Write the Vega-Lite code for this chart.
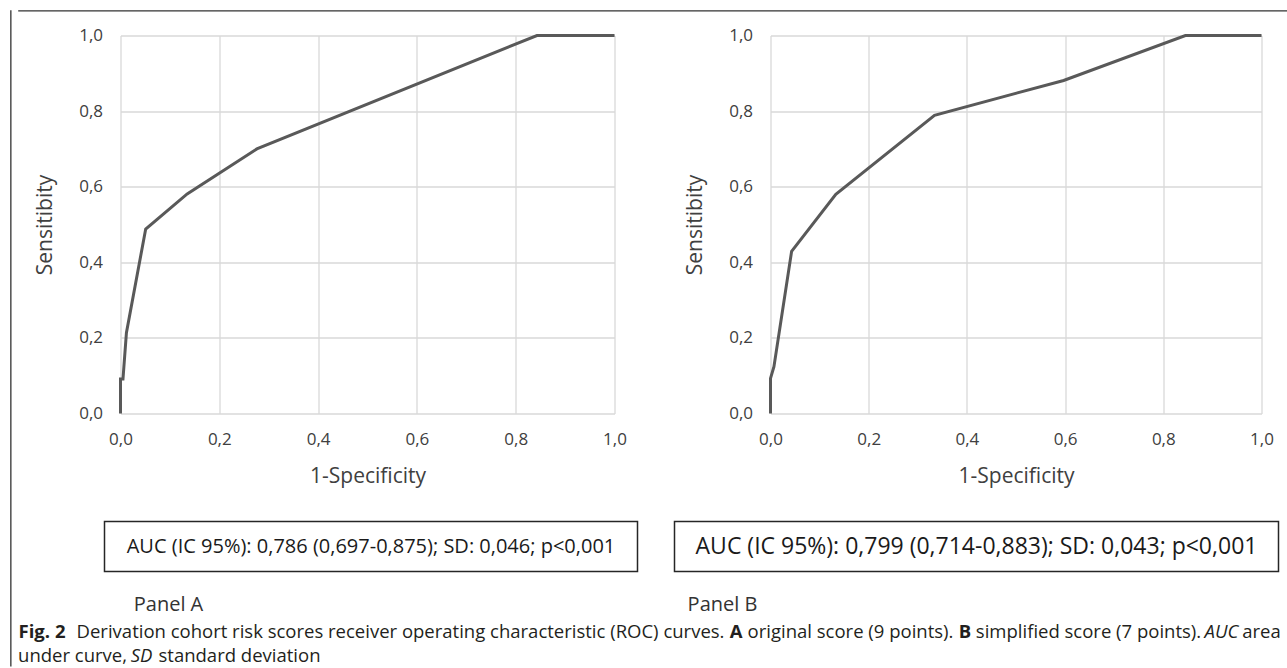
{
  "$schema": "https://vega.github.io/schema/vega-lite/v6.json",
  "padding": {"left": 9.5, "top": 9.5, "right": 0, "bottom": 0},
  "background": "#ffffff",
  "datasets": {
    "rocA": [
      {"i": 0, "fpr": 0.0, "tpr": 0.0},
      {"i": 1, "fpr": 0.0, "tpr": 0.091},
      {"i": 2, "fpr": 0.005, "tpr": 0.091},
      {"i": 3, "fpr": 0.012, "tpr": 0.214},
      {"i": 4, "fpr": 0.051, "tpr": 0.488},
      {"i": 5, "fpr": 0.135, "tpr": 0.581},
      {"i": 6, "fpr": 0.276, "tpr": 0.7},
      {"i": 7, "fpr": 0.843, "tpr": 1.0},
      {"i": 8, "fpr": 1.0, "tpr": 1.0}
    ],
    "rocB": [
      {"i": 0, "fpr": 0.0, "tpr": 0.0},
      {"i": 1, "fpr": 0.0, "tpr": 0.093},
      {"i": 2, "fpr": 0.007, "tpr": 0.124},
      {"i": 3, "fpr": 0.043, "tpr": 0.429},
      {"i": 4, "fpr": 0.133, "tpr": 0.58},
      {"i": 5, "fpr": 0.334, "tpr": 0.789},
      {"i": 6, "fpr": 0.597, "tpr": 0.881},
      {"i": 7, "fpr": 0.845, "tpr": 1.0},
      {"i": 8, "fpr": 1.0, "tpr": 1.0}
    ]
  },
  "hconcat": [
    {"width": 0.1, "height": 655, "view": {"stroke": "#333333", "strokeWidth": 1.2}, "data": {"values": []}, "mark": "point"},
    {
      "vconcat": [
        {"width": 1268, "height": 0.1, "view": {"stroke": "#333333", "strokeWidth": 1.2}, "data": {"values": []}, "mark": "point"},
        {"width": 1, "height": 15, "data": {"values": []}, "mark": "point"},
        {
          "hconcat": [
            {"width": 102, "height": 485, "data": {"values": []}, "mark": "point"},
            {
              "width": 494, "height": 378,
              "data": {"name": "rocA"},
              "mark": {"type": "line", "color": "#595959", "strokeWidth": 3},
              "encoding": {
                "x": {"field": "fpr", "type": "quantitative", "scale": {"domain": [0, 1], "nice": false}, "axis": {"title": "1-Specificity", "values": [0, 0.2, 0.4, 0.6, 0.8, 1]}},
                "y": {"field": "tpr", "type": "quantitative", "scale": {"domain": [0, 1], "nice": false}, "axis": {"title": "Sensitibity", "titlePadding": 23, "values": [0, 0.2, 0.4, 0.6, 0.8, 1]}},
                "order": {"field": "i", "type": "quantitative"}
              }
            },
            {"width": 156, "height": 1, "data": {"values": []}, "mark": "point"},
            {
              "width": 491, "height": 378,
              "data": {"name": "rocB"},
              "mark": {"type": "line", "color": "#595959", "strokeWidth": 3},
              "encoding": {
                "x": {"field": "fpr", "type": "quantitative", "scale": {"domain": [0, 1], "nice": false}, "axis": {"title": "1-Specificity", "values": [0, 0.2, 0.4, 0.6, 0.8, 1]}},
                "y": {"field": "tpr", "type": "quantitative", "scale": {"domain": [0, 1], "nice": false}, "axis": {"title": "Sensitibity", "titlePadding": 23, "values": [0, 0.2, 0.4, 0.6, 0.8, 1]}},
                "order": {"field": "i", "type": "quantitative"}
              }
            }
          ],
          "spacing": 0,
          "bounds": "flush"
        },
        {
          "hconcat": [
            {"width": 86, "height": 50, "data": {"values": []}, "mark": "point"},
            {
              "width": 533, "height": 50,
              "view": {"stroke": "#262626", "strokeWidth": 1.5},
              "data": {"values": [{"t": "AUC (IC 95%): 0,786 (0,697-0,875); SD: 0,046; p<0,001"}]},
              "mark": {"type": "text", "font": "Open Sans", "fontSize": 20, "color": "#1a1a1a", "baseline": "middle"},
              "encoding": {"text": {"field": "t", "type": "nominal"}}
            },
            {"width": 37, "height": 50, "data": {"values": []}, "mark": "point"},
            {
              "width": 604, "height": 50,
              "view": {"stroke": "#262626", "strokeWidth": 1.5},
              "data": {"values": [{"t": "AUC (IC 95%): 0,799 (0,714-0,883); SD: 0,043; p<0,001"}]},
              "mark": {"type": "text", "font": "Open Sans", "fontSize": 23, "color": "#1a1a1a", "baseline": "middle"},
              "encoding": {"text": {"field": "t", "type": "nominal"}}
            }
          ],
          "spacing": 0,
          "bounds": "flush"
        },
        {"width": 1, "height": 21.5, "data": {"values": []}, "mark": "point"},
        {
          "hconcat": [
            {"width": 115, "height": 20, "data": {"values": []}, "mark": "point"},
            {"width": 70, "height": 20, "data": {"values": [{"t": "Panel A"}]},
             "mark": {"type": "text", "font": "Open Sans", "fontSize": 20, "color": "#333333", "baseline": "middle"},
             "encoding": {"text": {"field": "t", "type": "nominal"}}},
            {"width": 483, "height": 20, "data": {"values": []}, "mark": "point"},
            {"width": 72, "height": 20, "data": {"values": [{"t": "Panel B"}]},
             "mark": {"type": "text", "font": "Open Sans", "fontSize": 20, "color": "#333333", "baseline": "middle"},
             "encoding": {"text": {"field": "t", "type": "nominal"}}}
          ],
          "spacing": 0,
          "bounds": "flush"
        },
        {"width": 1, "height": 7, "data": {"values": []}, "mark": "point"},
        {
          "hconcat": [
            {"width": 47, "height": 20, "data": {"values": [{"t": "Fig. 2"}]},
             "mark": {"type": "text", "font": "Open Sans", "fontSize": 18.5, "fontWeight": "bold", "color": "#231f20", "baseline": "middle"},
             "encoding": {"text": {"field": "t", "type": "nominal"}}},
            {"width": 11, "height": 20, "data": {"values": []}, "mark": "point"},
            {"width": 648, "height": 20, "data": {"values": [{"t": "Derivation cohort risk scores receiver operating characteristic (ROC) curves."}]},
             "mark": {"type": "text", "font": "Open Sans", "fontSize": 18.5, "color": "#231f20", "baseline": "middle"},
             "encoding": {"text": {"field": "t", "type": "nominal"}}},
            {"width": 5, "height": 20, "data": {"values": []}, "mark": "point"},
            {"width": 13, "height": 20, "data": {"values": [{"t": "A"}]},
             "mark": {"type": "text", "font": "Open Sans", "fontSize": 18.5, "fontWeight": "bold", "color": "#231f20", "baseline": "middle"},
             "encoding": {"text": {"field": "t", "type": "nominal"}}},
            {"width": 5, "height": 20, "data": {"values": []}, "mark": "point"},
            {"width": 206, "height": 20, "data": {"values": [{"t": "original score (9 points)."}]},
             "mark": {"type": "text", "font": "Open Sans", "fontSize": 18.5, "color": "#231f20", "baseline": "middle"},
             "encoding": {"text": {"field": "t", "type": "nominal"}}},
            {"width": 5, "height": 20, "data": {"values": []}, "mark": "point"},
            {"width": 13, "height": 20, "data": {"values": [{"t": "B"}]},
             "mark": {"type": "text", "font": "Open Sans", "fontSize": 18.5, "fontWeight": "bold", "color": "#231f20", "baseline": "middle"},
             "encoding": {"text": {"field": "t", "type": "nominal"}}},
            {"width": 5, "height": 20, "data": {"values": []}, "mark": "point"},
            {"width": 224, "height": 20, "data": {"values": [{"t": "simplified score (7 points)."}]},
             "mark": {"type": "text", "font": "Open Sans", "fontSize": 18.5, "color": "#231f20", "baseline": "middle"},
             "encoding": {"text": {"field": "t", "type": "nominal"}}},
            {"width": 5, "height": 20, "data": {"values": []}, "mark": "point"},
            {"width": 32, "height": 20, "data": {"values": [{"t": "AUC"}]},
             "mark": {"type": "text", "font": "Open Sans", "fontSize": 18.5, "fontStyle": "italic", "color": "#231f20", "baseline": "middle"},
             "encoding": {"text": {"field": "t", "type": "nominal"}}},
            {"width": 5, "height": 20, "data": {"values": []}, "mark": "point"},
            {"width": 38, "height": 20, "data": {"values": [{"t": "area"}]},
             "mark": {"type": "text", "font": "Open Sans", "fontSize": 18.5, "color": "#231f20", "baseline": "middle"},
             "encoding": {"text": {"field": "t", "type": "nominal"}}}
          ],
          "spacing": 0,
          "bounds": "flush"
        },
        {"width": 1, "height": 4, "data": {"values": []}, "mark": "point"},
        {
          "hconcat": [
            {"width": 108, "height": 20, "data": {"values": [{"t": "under curve,"}]},
             "mark": {"type": "text", "font": "Open Sans", "fontSize": 18.5, "color": "#231f20", "baseline": "middle"},
             "encoding": {"text": {"field": "t", "type": "nominal"}}},
            {"width": 4, "height": 20, "data": {"values": []}, "mark": "point"},
            {"width": 22, "height": 20, "data": {"values": [{"t": "SD"}]},
             "mark": {"type": "text", "font": "Open Sans", "fontSize": 18.5, "fontStyle": "italic", "color": "#231f20", "baseline": "middle"},
             "encoding": {"text": {"field": "t", "type": "nominal"}}},
            {"width": 6, "height": 20, "data": {"values": []}, "mark": "point"},
            {"width": 162, "height": 20, "data": {"values": [{"t": "standard deviation"}]},
             "mark": {"type": "text", "font": "Open Sans", "fontSize": 18.5, "color": "#231f20", "baseline": "middle"},
             "encoding": {"text": {"field": "t", "type": "nominal"}}}
          ],
          "spacing": 0,
          "bounds": "flush"
        }
      ],
      "spacing": 0,
      "bounds": "full"
    }
  ],
  "spacing": 7,
  "bounds": "flush",
  "config": {
    "view": {"stroke": null},
    "font": "Open Sans",
    "axis": {
      "grid": true,
      "gridColor": "#d9d9d9",
      "gridWidth": 1.3,
      "domain": false,
      "ticks": false,
      "labelExpr": "replace(format(datum.value, '.1f'), '.', ',')",
      "labelFont": "Open Sans",
      "labelFontSize": 17,
      "labelColor": "#404040",
      "labelFlush": false,
      "labelOverlap": false,
      "labelPadding": 18,
      "titleFont": "Open Sans",
      "titleFontSize": 21,
      "titleFontWeight": "normal",
      "titleColor": "#404040",
      "titlePadding": 18
    }
  }
}
